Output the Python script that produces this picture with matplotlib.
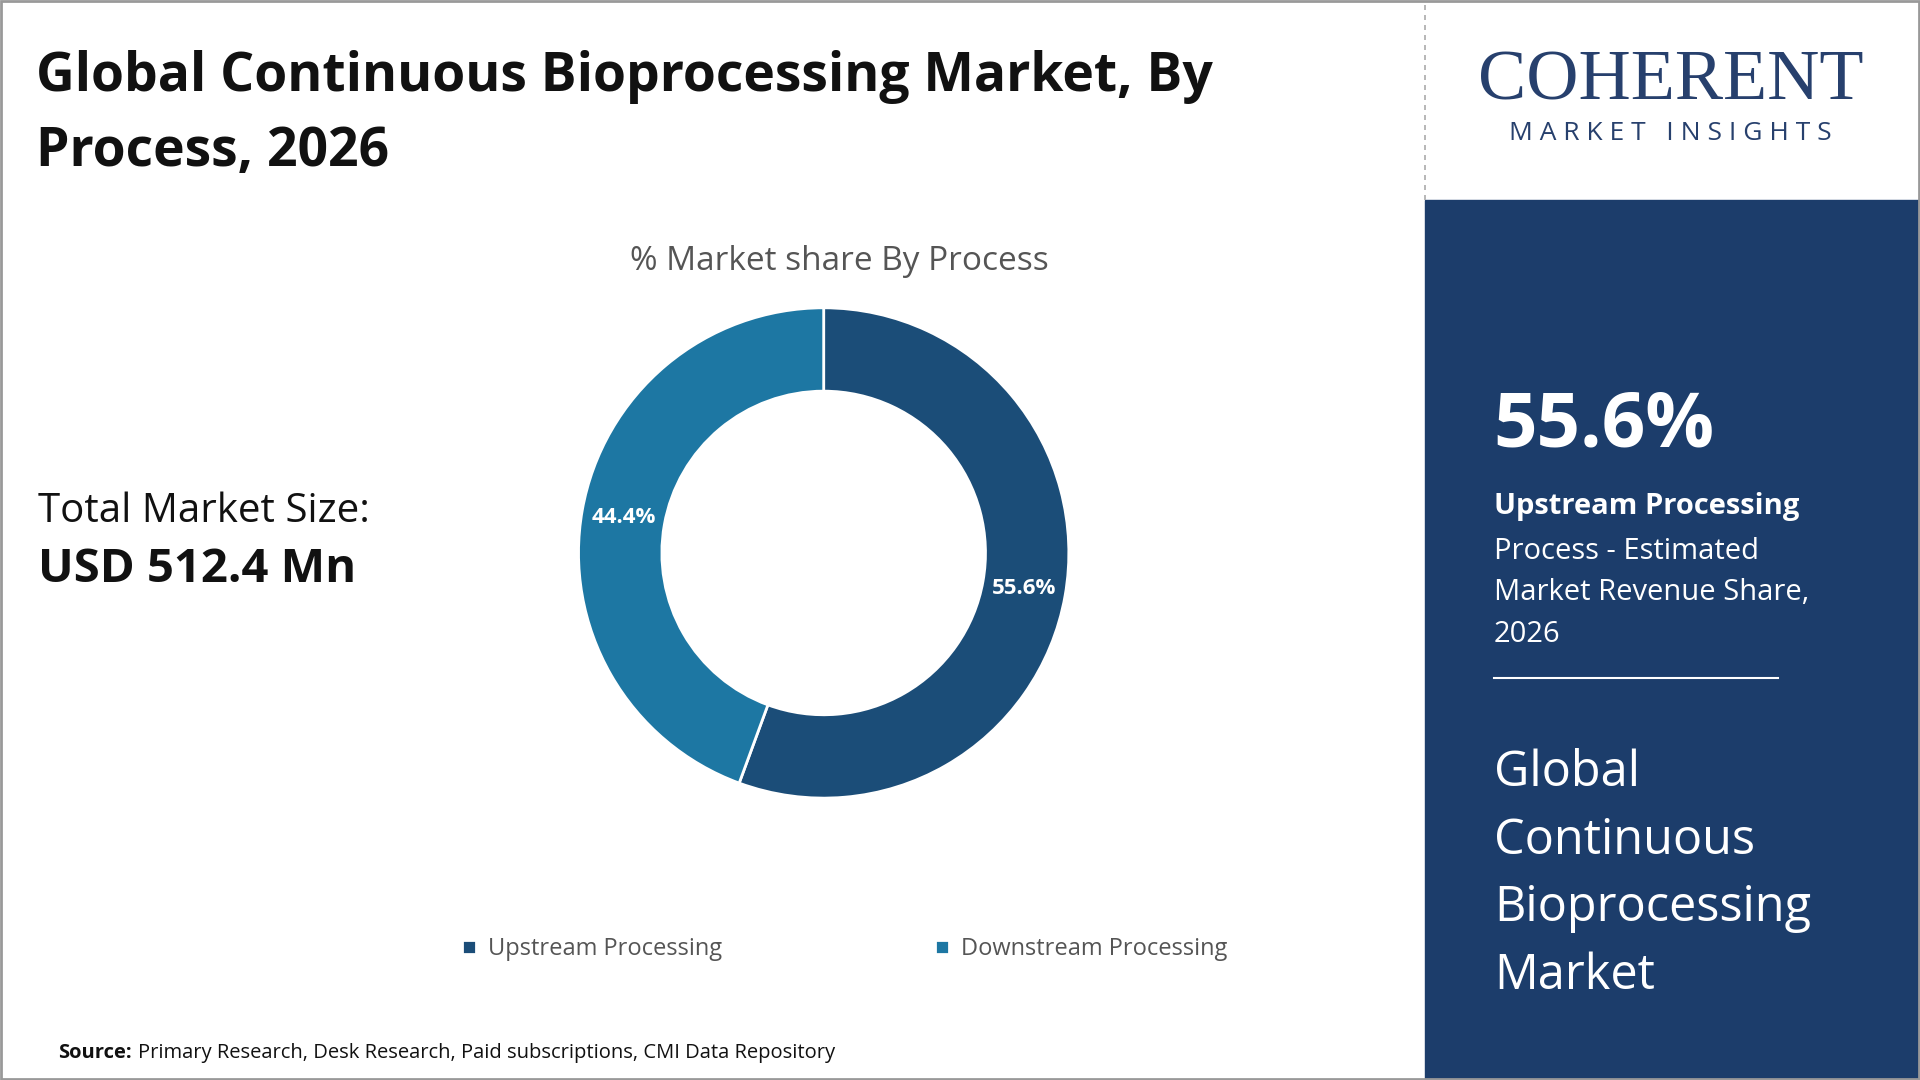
import matplotlib.pyplot as plt
from matplotlib.patches import Rectangle

plt.rcParams['font.family'] = ['Open Sans', 'DejaVu Sans']

segments = ['Upstream Processing', 'Downstream Processing']
shares = [55.6, 44.4]
colors = ['#1b4d78', '#1d77a3']

fig = plt.figure(figsize=(19.2, 10.8), dpi=100)
fig.patch.set_facecolor('white')

# right navy panel + border
fig.add_artist(Rectangle((0.742, 0), 0.258, 0.815, transform=fig.transFigure, color='#1c3d6b', zorder=0))
fig.add_artist(Rectangle((0.0007, 0.001), 0.9986, 0.998, transform=fig.transFigure, fill=False, ec='#999999', lw=2))
fig.add_artist(plt.Line2D([0.742, 0.742], [0.815, 1], transform=fig.transFigure, color='#aaaaaa', ls=(0, (3, 3)), lw=1.2))

# donut
ax = fig.add_axes([0.429 - 0.1277, 0.488 - 0.227, 0.2554, 0.454])
wedges, _, autotexts = ax.pie(shares, colors=colors, startangle=90, counterclock=False,
                              autopct='%.1f%%', pctdistance=0.83,
                              wedgeprops=dict(width=0.34, edgecolor='white', linewidth=2),
                              textprops=dict(color='white', fontsize=16, fontweight='bold'))
ax.set_xlim(-1, 1)
ax.set_ylim(-1, 1)
ax.set_aspect('equal')

fig.legend(wedges, segments, loc='center', bbox_to_anchor=(0.44, 0.121), ncol=2, frameon=False,
           fontsize=17, labelcolor='#555555', handlelength=0.6, handleheight=0.6,
           columnspacing=9, handletextpad=0.5)

fig.text(0.019, 0.894, 'Global Continuous Bioprocessing Market, By\nProcess, 2026', fontsize=38.5,
         fontweight='bold', va='center', linespacing=1.5, color='#111111')
fig.text(0.437, 0.758, '% Market share By Process', fontsize=24, color='#555555', ha='center', va='center')
fig.text(0.02, 0.526, 'Total Market Size:', fontsize=29, color='#111111', va='center')
fig.text(0.02, 0.473, 'USD 512.4 Mn', fontsize=34, fontweight='bold', color='#111111', va='center')
fig.text(0.03, 0.025, 'Source:', fontsize=14.5, fontweight='bold', va='center', color='#111111')
fig.text(0.072, 0.025, 'Primary Research, Desk Research, Paid subscriptions, CMI Data Repository',
         fontsize=14.5, va='center', color='#111111')

# right panel text
fig.text(0.778, 0.605, '55.6%', fontsize=55, fontweight='bold', color='white', va='center')
fig.text(0.778, 0.531, 'Upstream Processing', fontsize=21, fontweight='bold', color='white', va='center')
fig.text(0.778, 0.451, 'Process - Estimated\nMarket Revenue Share,\n2026', fontsize=21, color='white',
         va='center', linespacing=1.55)
fig.add_artist(plt.Line2D([0.778, 0.926], [0.372, 0.372], transform=fig.transFigure, color='white', lw=1.5))
fig.text(0.778, 0.19, 'Global\nContinuous\nBioprocessing\nMarket', fontsize=35, color='white',
         va='center', linespacing=1.48)

# logo
fig.text(0.87, 0.924, 'COHERENT', fontsize=52, family='Liberation Serif', color='#27406d', ha='center', va='center')
fig.text(0.87, 0.876, 'M A R K E T   I N S I G H T S', fontsize=19, color='#27406d', ha='center', va='center')

fig.savefig('out.png', dpi=100)
